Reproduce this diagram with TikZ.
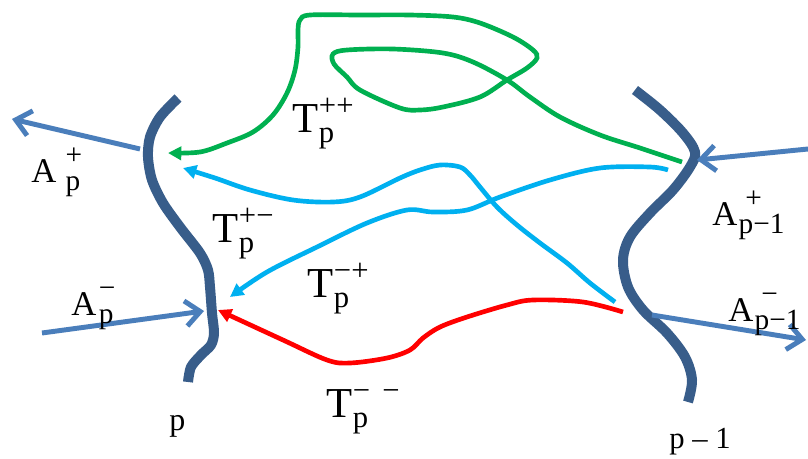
\documentclass[tikz,border=0pt]{standalone}
\usepackage{fontspec}
\setmainfont{Liberation Serif}
\usetikzlibrary{arrows.meta}
\definecolor{wallc}{HTML}{385D8A}
\definecolor{ac}{HTML}{4A7EBB}
\definecolor{gc}{HTML}{00B050}
\definecolor{cc}{HTML}{00B0F0}
\definecolor{rc}{HTML}{FF0000}
% T labels: main, sup, sub
\newcommand{\TL}[3]{{\fontsize{32}{32}\selectfont #1}\kern0.5pt\rlap{\raisebox{12.5pt}{\fontsize{23}{23}\selectfont #2}}\raisebox{-7.5pt}{\fontsize{23}{23}\selectfont #3}}
% A labels: kern, sup, sub
\newcommand{\AL}[3]{{\fontsize{26}{26}\selectfont A}\kern#1\rlap{\raisebox{13pt}{\fontsize{22}{22}\selectfont #2}}\raisebox{-6pt}{\fontsize{22}{22}\selectfont #3}}
\begin{document}
\begin{tikzpicture}[x=0.75pt,y=-0.75pt,
  wall/.style={draw=wallc,line width=7.5pt},
  aarrow/.style={draw=ac,line width=3.7pt,-{Straight Barb[length=11pt,width=19pt]}},
  tarrow/.style={line width=3.5pt,-{Triangle[length=10pt,width=10pt]}},
  lab/.style={anchor=base west,inner sep=0pt}]
\useasboundingbox (0,0) rectangle (808,458);
\fill[white] (0,0) rectangle (808,458);

% boundaries
\draw[wall] plot[smooth,tension=0.5] coordinates {(178,98) (160,117) (150,137) (148,157) (152,180) (163,203) (180,227) (200,253) (208,270) (210,287) (212,313) (214,333) (211,345) (201,355) (191,367) (188,382)};
\draw[wall] plot[smooth,tension=0.55] coordinates {(635,90) (660,110) (683,133) (695,152) (690,167) (673,190) (650,213) (630,237) (623,260) (628,287) (643,310) (667,333) (685,357) (692,380) (688,402)};

% endpoints
\coordinate (apS) at (140,149);
\coordinate (apE) at (12,119);
\coordinate (amS) at (42,333);
\coordinate (amE) at (204,311);
\coordinate (bpS) at (808,149);
\coordinate (bpE) at (697,160);
\coordinate (bmS) at (652,315);
\coordinate (bmE) at (806,340);
\coordinate (gS) at (682,162);
\coordinate (gE) at (168,153);
\coordinate (c1S) at (668,170);
\coordinate (c1E) at (230,297);
\coordinate (c2S) at (615,302);
\coordinate (c2E) at (183,168);
\coordinate (rS) at (623,312);
\coordinate (rE) at (218,310);

% A arrows
\draw[aarrow] (apS) -- (apE);
\draw[aarrow] (amS) -- (amE);
\draw[aarrow] (bpS) -- (bpE);
\draw[aarrow] (bmS) -- (bmE);

% T curves
\draw[tarrow,gc] plot[smooth,tension=0.55] coordinates {(gS) (640,148) (600,135) (560,117) (530,97) (507,80) (473,62) (443,53) (393,49) (347,50) (333,54) (334,64) (347,77) (360,90) (400,108) (420,110) (443,107) (480,97) (507,80) (527,68) (537,58) (533,50) (513,37) (480,23) (453,17) (410,15) (360,15) (310,15) (300,20) (298,30) (298,47) (295,70) (287,93) (273,115) (253,132) (227,143) (200,152) (gE)};
\draw[tarrow,cc] plot[smooth,tension=0.55] coordinates {(c1S) (650,167) (600,168) (550,180) (500,197) (467,210) (433,212) (407,210) (367,223) (317,247) (267,272) (c1E)};
\draw[tarrow,cc] plot[smooth,tension=0.55] coordinates {(c2S) (590,283) (567,263) (540,243) (517,225) (497,207) (480,187) (470,175) (460,167) (440,165) (420,170) (400,178) (360,197) (333,202) (293,200) (250,190) (215,178) (c2E)};
\draw[tarrow,rc] plot[smooth,tension=0.55] coordinates {(rS) (583,302) (533,300) (507,305) (467,317) (440,327) (423,338) (410,350) (387,358) (350,363) (327,360) (283,340) (rE)};

% labels
\node[lab] (lAp) at (31,182) {\AL{7pt}{+}{p}};
\node[lab] (lAm) at (71,315) {\AL{2pt}{−}{p}};
\node[lab] (lBp) at (712,225) {\AL{1pt}{\kern5pt+}{p−1}};
\node[lab] (lBm) at (728,321) {\AL{1pt}{\kern5pt−}{p−1}};
\node[lab] (lTpp) at (292,132) {\TL{T}{++}{p}};
\node[lab] (lTpm) at (212,242) {\TL{T}{+−}{p}};
\node[lab] (lTmp) at (307,297) {\TL{T}{−+}{p}};
\node[lab] (lTmm) at (326,417) {\TL{T}{−\kern9pt−}{p}};
\node[lab] (lp) at (169,430) {\fontsize{24}{24}\selectfont p};
\node[lab] (lp1) at (669,448) {\fontsize{23}{23}\selectfont p – 1};
\end{tikzpicture}
\end{document}
